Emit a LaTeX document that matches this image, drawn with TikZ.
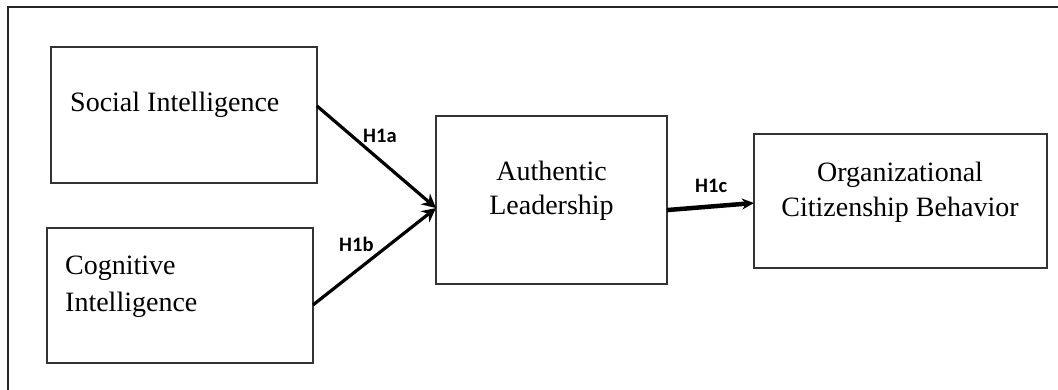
\documentclass[tikz,border=0pt]{standalone}
\usepackage{fontspec}
\setmainfont{Liberation Serif}
\newfontfamily\lblfont{Carlito}
\usetikzlibrary{arrows.meta,calc}
\begin{document}
\begin{tikzpicture}[x=1pt,y=-1pt,
  box/.style={draw=black!80,line width=2pt,inner sep=0pt,outer sep=0pt},
  txt/.style={font=\fontsize{28}{34}\selectfont,inner sep=0pt,text=black},
  hyp/.style={font=\lblfont\bfseries\fontsize{20.5}{24}\selectfont,inner sep=0pt,text=black},
  link/.style={line width=3.2pt,draw=black,-{Stealth[length=14pt,width=14pt]}}]
\useasboundingbox (0,0) rectangle (1058,390);
\draw[line width=2pt,black!85] (8,390) -- (8,7) -- (1058,7);
% boxes
\node[box,minimum width=266pt,minimum height=136pt] (si) at (184,115) {};
\node[box,minimum width=266pt,minimum height=135pt] (ci) at (180,295.5) {};
\node[box,minimum width=231pt,minimum height=168pt] (al) at (551.5,200) {};
\node[box,minimum width=293pt,minimum height=134pt] (ocb) at (900.5,201) {};
% texts
\node[txt,anchor=base west] (sit) at (70,112) {Social Intelligence};
\node[txt,anchor=base west] (cit1) at (65,275) {Cognitive};
\node[txt,anchor=base west] (cit2) at (65,311) {Intelligence};
\node[txt,anchor=base] (alt1) at (551.5,181) {Authentic};
\node[txt,anchor=base] (alt2) at (551.5,215) {Leadership};
\node[txt,anchor=base] (ocbt1) at (900,182) {Organizational};
\node[txt,anchor=base] (ocbt2) at (900,217) {Citizenship Behavior};
% connector ends
\coordinate (a1s) at ($(si.north east)!0.434!(si.south east)$);
\coordinate (a2s) at ($(ci.north east)!0.57!(ci.south east)$);
\coordinate (a12e) at ($(al.north west)!0.548!(al.south west)$);
\coordinate (a3s) at ($(al.north east)!0.56!(al.south east)$);
\coordinate (a3e) at ($(ocb.north west)!0.515!(ocb.south west)$);
\draw[link] (a1s) -- (a12e);
\draw[link] (a2s) -- (a12e);
\draw[link,line width=4.5pt,-{Stealth[length=12pt,width=11pt]}] (a3s) -- (a3e);
% hypothesis labels
\node[hyp,anchor=base west] (h1a) at (363,143) {H1a};
\node[hyp,anchor=base west] (h1b) at (339,252) {H1b};
\node[hyp,anchor=base west] (h1c) at (695,193) {H1c};
\end{tikzpicture}
\end{document}
